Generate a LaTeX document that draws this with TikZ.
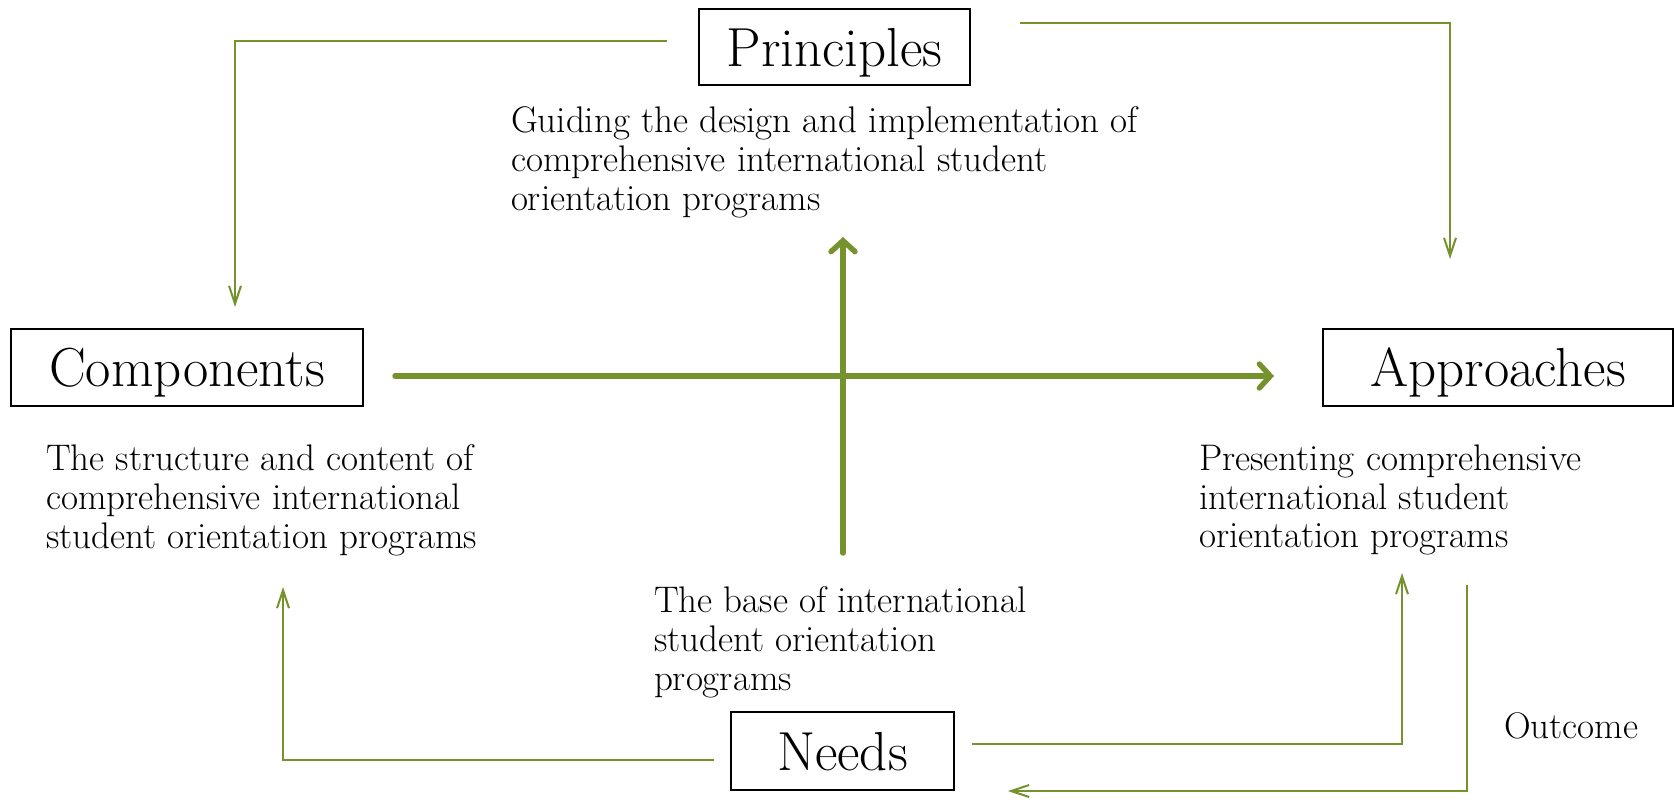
\documentclass[tikz,border=0pt]{standalone}
\usepackage{tikz}
\usetikzlibrary{arrows.meta}

\definecolor{leafgreen}{RGB}{118,146,44}

\begin{document}
\begin{tikzpicture}[x=0.5pt, y=-0.5pt, outer sep=0pt]

\tikzstyle{place}=[draw, rectangle, line width=0.8pt, inner sep=0pt, text depth=0pt, font=\fontsize{27.5}{33}\selectfont]
\tikzstyle{note}=[align=left, inner sep=0pt, anchor=north west, font=\fontsize{18.5}{19.3}\selectfont]
\tikzstyle{link}=[draw=leafgreen, line width=1pt, -{Straight Barb[length=9pt,width=6pt]}]
\tikzstyle{mainlink}=[draw=leafgreen, line width=2.7pt, line cap=round, -{Straight Barb[length=5.5pt,width=12pt,line cap=round]}]

\useasboundingbox (0,0) rectangle (1674,802);

\node[place, minimum width=135.5pt, minimum height=38pt] (prin) at (834.5,47) {Principles};
\node[place, minimum width=176pt, minimum height=38.5pt] (comp) at (187,367.5) {Components};
\node[place, minimum width=175pt, minimum height=38.5pt] (appr) at (1498,367.5) {Approaches};
\node[place, minimum width=111.5pt, minimum height=39pt] (needs) at (842.5,751) {Needs};

\node[note] (prinnote) at (511,107) {Guiding the design and implementation of\\comprehensive international student\\orientation programs};
\node[note] (compnote) at (46,445) {The structure and content of\\comprehensive international\\student orientation programs};
\node[note] (apprnote) at (1199,445) {Presenting comprehensive\\international student\\orientation programs};
\node[note] (needsnote) at (654,587) {The base of international\\student orientation\\programs};
\node[note] (outcome) at (1504,713) {Outcome};

% loose ends of the connectors
\coordinate (prinL) at (667,41); \coordinate (prinR) at (1020,23); \coordinate (prinB) at (843,237);
\coordinate (compT) at (235,307); \coordinate (compR) at (395,376); \coordinate (compB) at (283,587);
\coordinate (apprT) at (1450,259); \coordinate (apprL) at (1274,376); \coordinate (apprB) at (1402,573); \coordinate (apprOut) at (1467,585);
\coordinate (needsT) at (843,553); \coordinate (needsL) at (714,760); \coordinate (needsR) at (972,744); \coordinate (needsIn) at (1008,791);

\draw[link] (prinL) -| (compT);
\draw[link] (prinR) -| (apprT);
\draw[mainlink] (compR) -- (apprL);
\draw[mainlink] (needsT) -- (prinB);
\draw[link] (needsL) -| (compB);
\draw[link] (needsR) -| (apprB);
\draw[link] (apprOut) |- (needsIn);

\end{tikzpicture}
\end{document}
